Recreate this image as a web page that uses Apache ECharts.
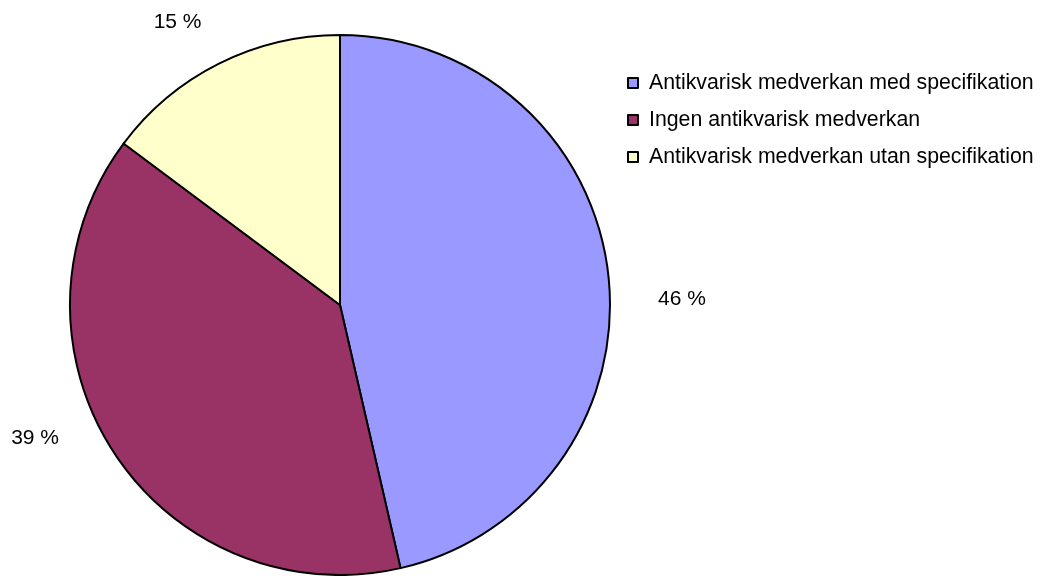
<!DOCTYPE html>
<html>
<head>
<meta charset="utf-8">
<script src="https://cdn.jsdelivr.net/npm/echarts@6/dist/echarts.min.js"></script>
<style>html,body{margin:0;padding:0;background:#fff}#c{width:1053px;height:576px}</style>
</head>
<body>
<div id="c"></div>
<script>
const categories = [
  'Antikvarisk medverkan med specifikation',
  'Ingen antikvarisk medverkan',
  'Antikvarisk medverkan utan specifikation'
];
const values = [46.4, 38.8, 14.8];
const colors = ['#9999FF', '#993366', '#FFFFCC'];

// small label nudges (styling only) to mimic the original label placement
const labelNudge = [[-5, 30], [-8, -42], [10, 3]];

const FONT = 'Liberation Sans, Arial, sans-serif';
const chart = echarts.init(document.getElementById('c'), null, {renderer: 'canvas'});
chart.setOption({
  animation: false,
  backgroundColor: '#ffffff',
  textStyle: {fontFamily: FONT},
  legend: {
    orient: 'vertical',
    left: 622,
    top: 66,
    itemWidth: 10,
    itemHeight: 10,
    itemGap: 13,
    icon: 'rect',
    textStyle: {fontSize: 21.3, color: '#000', lineHeight: 24, fontFamily: FONT, padding: [0, 0, 0, 6]},
    data: categories
  },
  series: [{
    type: 'pie',
    center: [340, 305],
    radius: [0, 270],
    startAngle: 90,
    clockwise: true,
    avoidLabelOverlap: false,
    data: categories.map((c, i) => ({name: c, value: values[i], itemStyle: {color: colors[i]}})),
    itemStyle: {borderColor: '#000', borderWidth: 2},
    label: {
      show: true,
      position: 'outside',
      formatter: p => Math.round(p.percent) + ' %',
      fontSize: 21,
      color: '#000',
      fontFamily: FONT
    },
    labelLine: {show: false, length: 50, length2: 0},
    labelLayout: p => ({dx: labelNudge[p.dataIndex][0], dy: labelNudge[p.dataIndex][1]}),
    emphasis: {disabled: true}
  }]
});
</script>
</body>
</html>
